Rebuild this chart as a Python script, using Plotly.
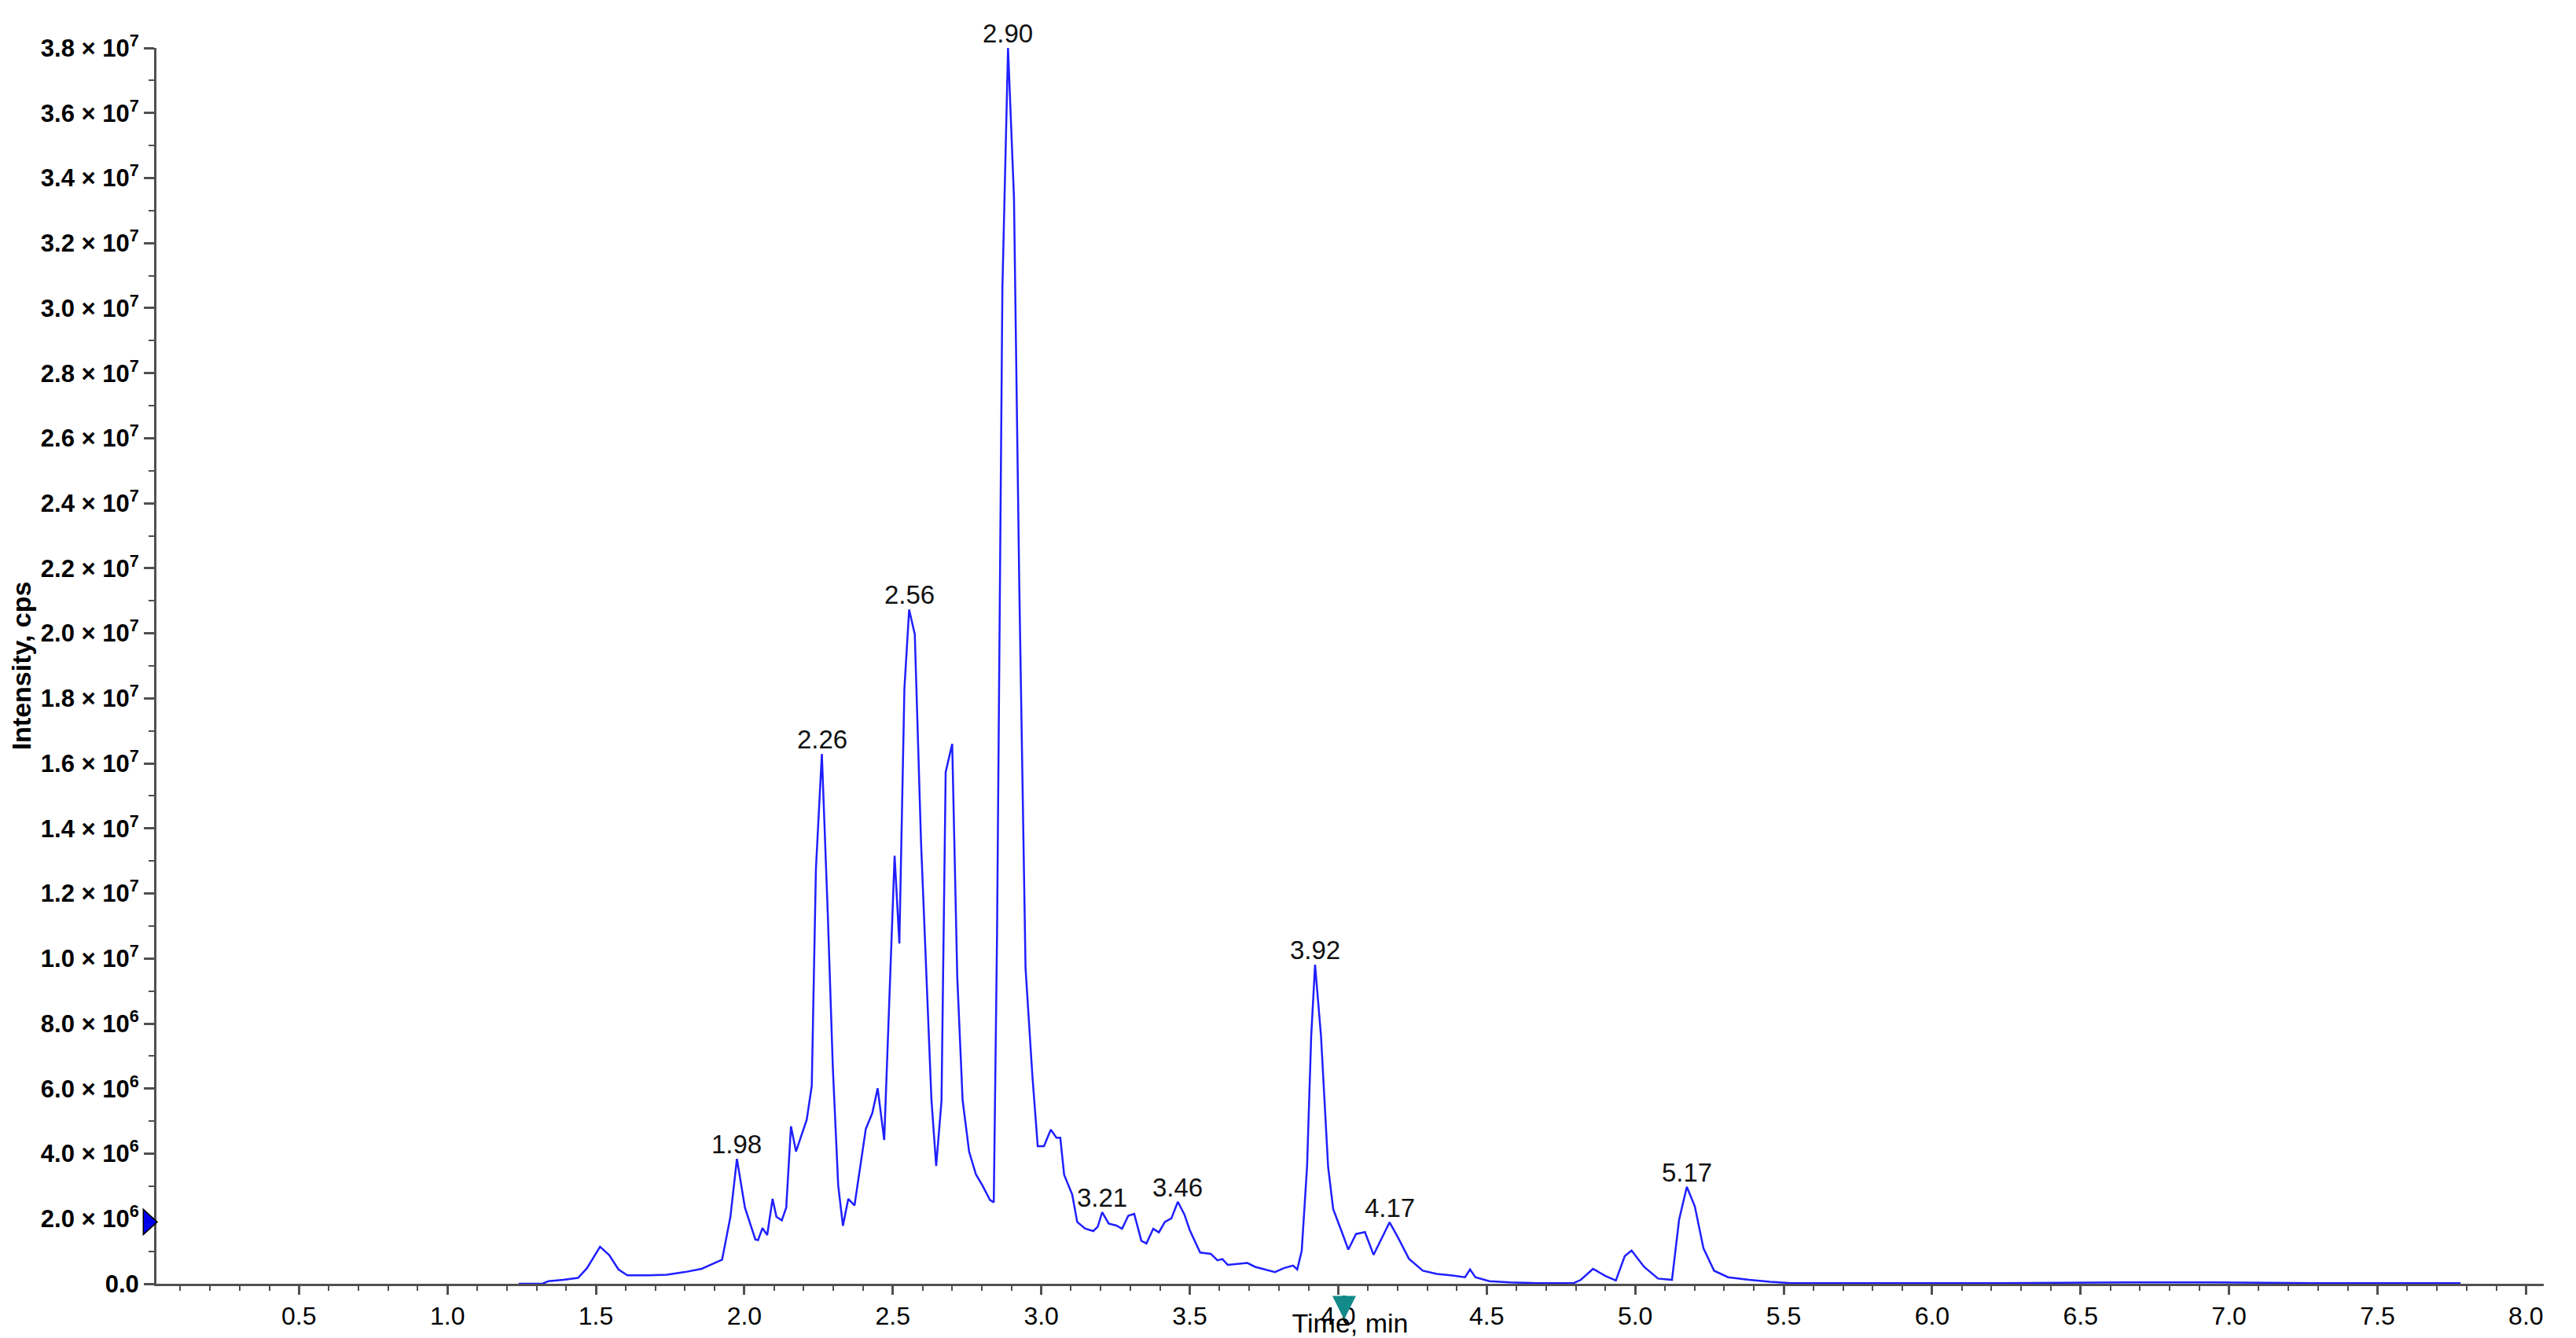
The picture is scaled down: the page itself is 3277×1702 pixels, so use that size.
import plotly.graph_objects as go

# Retention time (min) and intensity (x 1e6 cps)
time_min = [1.24, 1.32, 1.34, 1.39, 1.44, 1.47, 1.514, 1.545, 1.576, 1.606, 1.678, 1.739, 1.800,
            1.82, 1.856, 1.891, 1.925, 1.953, 1.975, 2.002, 2.037, 2.046, 2.061, 2.077, 2.095,
            2.108, 2.126, 2.141, 2.157, 2.174, 2.210, 2.227, 2.241, 2.261, 2.281, 2.298, 2.316,
            2.332, 2.350, 2.371, 2.409, 2.431, 2.449, 2.471, 2.486, 2.506, 2.522, 2.539, 2.555,
            2.574, 2.595, 2.612, 2.630, 2.646, 2.664, 2.678, 2.700, 2.717, 2.735, 2.757, 2.780,
            2.802, 2.827, 2.840, 2.851, 2.869, 2.888, 2.908, 2.926, 2.947, 2.970, 2.988, 3.009,
            3.032, 3.051, 3.064, 3.077, 3.104, 3.121, 3.147, 3.175, 3.190, 3.205, 3.227, 3.253,
            3.272, 3.293, 3.313, 3.337, 3.354, 3.377, 3.396, 3.416, 3.438, 3.460, 3.482, 3.500,
            3.535, 3.571, 3.593, 3.610, 3.628, 3.659, 3.694, 3.720, 3.751, 3.787, 3.817, 3.848,
            3.862, 3.877, 3.895, 3.909, 3.922, 3.942, 3.966, 3.983, 4.013, 4.034, 4.060, 4.090,
            4.119, 4.173, 4.202, 4.238, 4.285, 4.332, 4.379, 4.427, 4.444, 4.462, 4.509, 4.580,
            4.675, 4.793, 4.817, 4.858, 4.900, 4.935, 4.965, 4.988, 5.030, 5.077, 5.124, 5.148,
            5.174, 5.201, 5.230, 5.266, 5.313, 5.384, 5.455, 5.526, 5.80, 6.20, 6.65, 6.95,
            7.30, 7.78]
intensity_e6 = [0.0, 0.0, 0.08, 0.12, 0.18, 0.48, 1.14, 0.88, 0.44, 0.26, 0.26, 0.28, 0.36,
                0.39, 0.46, 0.60, 0.74, 2.06, 3.84, 2.34, 1.36, 1.34, 1.71, 1.50, 2.61,
                2.06, 1.95, 2.34, 4.84, 4.07, 5.04, 6.08, 12.75, 16.29, 11.36, 6.64, 3.03,
                1.78, 2.61, 2.41, 4.76, 5.25, 6.01, 4.42, 8.03, 13.16, 10.46, 18.30, 20.73,
                19.97, 13.58, 9.83, 5.67, 3.62, 5.63, 15.73, 16.60, 9.44, 5.65, 4.06, 3.36,
                3.02, 2.58, 2.50, 10.75, 30.6, 38.0, 33.4, 21.4, 9.7, 6.4, 4.23, 4.23,
                4.74, 4.49, 4.49, 3.35, 2.75, 1.90, 1.70, 1.62, 1.75, 2.20, 1.85, 1.79,
                1.69, 2.09, 2.15, 1.32, 1.24, 1.69, 1.58, 1.90, 2.01, 2.52, 2.13, 1.65,
                0.96, 0.92, 0.72, 0.76, 0.58, 0.60, 0.64, 0.52, 0.44, 0.36, 0.48, 0.56,
                0.44, 1.01, 3.59, 7.62, 9.81, 7.62, 3.59, 2.30, 1.57, 1.05, 1.53, 1.59,
                0.89, 1.89, 1.41, 0.77, 0.40, 0.30, 0.26, 0.20, 0.44, 0.20, 0.08, 0.04,
                0.02, 0.02, 0.12, 0.46, 0.24, 0.10, 0.85, 1.02, 0.52, 0.16, 0.12, 1.97,
                2.98, 2.38, 1.09, 0.40, 0.20, 0.12, 0.06, 0.02, 0.02, 0.02, 0.04, 0.04,
                0.02, 0.02]
intensity = [v * 1e6 for v in intensity_e6]

peak_labels = ["1.98", "2.26", "2.56", "2.90", "3.21", "3.46", "3.92", "4.17", "5.17"]

y_tick_values = [i * 2e6 for i in range(20)]
y_tick_labels = ["0.0"] + [
    (f"{v/1e6:.1f} × 10<sup>6</sup>" if v < 1e7 else f"{v/1e7:.1f} × 10<sup>7</sup>")
    for v in y_tick_values[1:]
]

# Small UI markers: threshold marker on the y axis, cursor arrow on the x axis
threshold_value = 1.9e6
threshold_half_height = 0.39e6
cursor_time = 4.02

AXIS_COLOR = "#505050"
TRACE_COLOR = "#1f1fff"
FONT = "Liberation Sans, Arial, sans-serif"

fig = go.Figure()
fig.add_trace(go.Scatter(
    x=time_min, y=intensity, mode="lines",
    line=dict(color=TRACE_COLOR, width=2.5),
    showlegend=False, hoverinfo="x+y",
))

# Peak apex labels, positioned at the apex found in the data
for lab in peak_labels:
    c = float(lab)
    cand = [(intensity[i], time_min[i]) for i in range(len(time_min)) if abs(time_min[i] - c) <= 0.021]
    ymax, tmax = max(cand)
    fig.add_annotation(x=tmax, y=ymax, text=lab, showarrow=False,
                       xanchor="center", yanchor="bottom", yshift=-2,
                       font=dict(family=FONT, size=33, color="#111111"))

# Threshold triangle sitting on the left of the y axis
fig.add_shape(
    type="path", xref="paper", yref="y",
    path=(f"M 0.0003,{threshold_value} "
          f"L -0.0055,{threshold_value + threshold_half_height} "
          f"L -0.0055,{threshold_value - threshold_half_height} Z"),
    fillcolor="#0000ee", line=dict(color="#000000", width=1.5), layer="above",
)

# Cursor arrow under the x axis
fig.add_annotation(x=cursor_time, xref="x", y=-0.029, yref="paper",
                   ax=0, ay=-32, axref="pixel", ayref="pixel",
                   text="", showarrow=True, arrowhead=2, arrowsize=1,
                   arrowwidth=6, arrowcolor="#138a8a")

# page body has an 8 px margin: shrink the figure so the plot lands where the reference has it
fig.update_layout(
    width=3269, height=1694,
    margin=dict(l=191, r=41, t=53, b=69),
    paper_bgcolor="white", plot_bgcolor="white",
    font=dict(family=FONT, color="#000000"),
    xaxis=dict(
        range=[0.02, 8.06], tick0=0, dtick=0.5, tickformat=".1f",
        showgrid=False, zeroline=False,
        showline=True, linecolor=AXIS_COLOR, linewidth=3,
        ticks="outside", ticklen=11, tickwidth=2.5, tickcolor=AXIS_COLOR,
        minor=dict(dtick=0.1, tick0=0, ticks="outside", ticklen=6, tickwidth=2, tickcolor=AXIS_COLOR),
        tickfont=dict(family=FONT, size=32, color="#000000"),
        title=dict(text="Time, min", standoff=24,
                   font=dict(family=FONT, size=34, color="#000000")),
        automargin=False,
    ),
    yaxis=dict(
        range=[0, 3.8e7], tickvals=y_tick_values, ticktext=y_tick_labels,
        showgrid=False, zeroline=False,
        showline=True, linecolor=AXIS_COLOR, linewidth=3,
        ticks="outside", ticklen=13, tickwidth=2.5, tickcolor=AXIS_COLOR,
        minor=dict(dtick=1e6, tick0=0, ticks="outside", ticklen=7, tickwidth=2, tickcolor=AXIS_COLOR),
        tickfont=dict(family=FONT, size=31, color="#000000", weight="bold"),
        title=dict(text="Intensity, cps", standoff=2,
                   font=dict(family=FONT, size=34, color="#000000", weight="bold")),
        automargin=False,
    ),
)

fig.write_html("out.html")
